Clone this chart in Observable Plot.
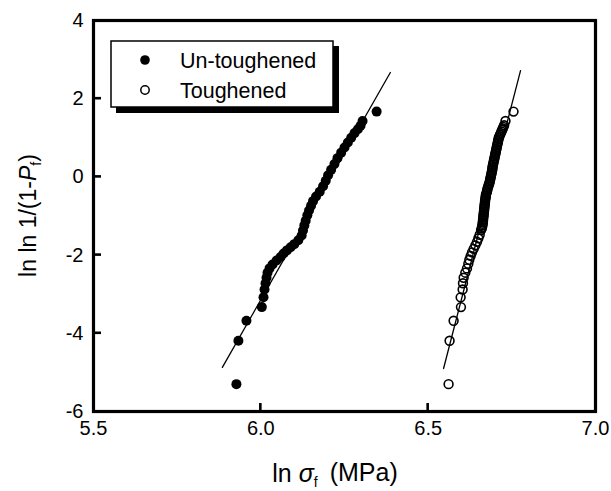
<!DOCTYPE html>
<html>
<head>
<meta charset="utf-8">
<script src="https://cdn.jsdelivr.net/npm/d3@7"></script>
<script src="https://cdn.jsdelivr.net/npm/@observablehq/plot@0.6"></script>
<style>
  html, body { margin: 0; padding: 0; background: white; }
</style>
</head>
<body>
<div id="chart"></div>
<script>
// ---- data ----
const xTicks = [5.5, 6.0, 6.5, 7.0];
const yTicks = [-6, -4, -2, 0, 2, 4];
const innerXTicks = [6.0, 6.5];
const innerYTicks = [-4, -2, 0, 2];

const seriesNames = ["Un-toughened", "Toughened"];

// Un-toughened: ln sigma_f and ln ln 1/(1-Pf)
const unX = [5.927,5.933,5.957,6.003,6.008,6.011,6.014,6.017,6.020,6.026,6.035,6.047,6.059,6.068,6.078,6.089,6.100,6.112,6.122,6.126,6.130,6.134,6.139,6.144,6.150,6.156,6.165,6.176,6.186,6.194,6.201,6.210,6.220,6.229,6.240,6.250,6.260,6.270,6.280,6.290,6.298,6.304,6.346];
const unY = [-5.30,-4.19,-3.68,-3.33,-3.08,-2.88,-2.72,-2.58,-2.45,-2.34,-2.24,-2.14,-2.05,-1.96,-1.88,-1.80,-1.72,-1.62,-1.50,-1.37,-1.24,-1.12,-0.98,-0.86,-0.74,-0.62,-0.50,-0.38,-0.24,-0.10,0.04,0.18,0.33,0.48,0.62,0.75,0.88,1.00,1.12,1.22,1.31,1.43,1.67];

// Toughened
const tX = [6.561,6.564,6.576,6.598,6.597,6.603,6.604,6.606,6.611,6.616,6.620,6.623,6.627,6.631,6.636,6.641,6.646,6.650,6.654,
  6.658,6.660,6.661,6.662,6.663,6.663,6.664,6.664,6.665,6.665,6.666,6.666,6.667,6.667,6.668,6.668,6.669,6.669,6.670,6.670,
  6.671,6.672,6.672,6.673,6.675,6.676,6.677,6.678,6.680,6.681,6.683,6.684,6.685,6.686,6.687,6.688,6.689,6.690,6.691,6.692,
  6.692,6.693,6.694,6.695,6.696,6.697,6.698,6.699,6.700,6.701,6.702,6.703,6.704,6.705,6.706,6.707,6.708,6.709,6.710,6.711,
  6.713,6.715,6.717,6.719,6.721,6.723,6.725,6.727,6.731,6.755];
const tY = [-5.30,-4.19,-3.68,-3.33,-3.08,-2.88,-2.72,-2.58,-2.45,-2.34,-2.22,-2.12,-2.02,-1.93,-1.84,-1.75,-1.66,-1.57,-1.48,
  -1.36,-1.32,-1.28,-1.24,-1.20,-1.16,-1.12,-1.08,-1.04,-1.00,-0.96,-0.92,-0.88,-0.84,-0.80,-0.76,-0.72,-0.68,-0.64,-0.60,
  -0.56,-0.52,-0.48,-0.44,-0.40,-0.36,-0.32,-0.28,-0.24,-0.20,-0.16,-0.12,-0.08,-0.04,0.00,0.04,0.08,0.12,0.16,0.20,
  0.24,0.28,0.32,0.36,0.40,0.44,0.48,0.52,0.56,0.60,0.64,0.68,0.72,0.76,0.80,0.84,0.88,0.92,0.96,1.00,
  1.04,1.08,1.12,1.16,1.20,1.24,1.28,1.32,1.43,1.67];

// Weibull fit lines (end points)
const fitUnX = [5.885, 6.387];
const fitUnY = [-4.87, 2.67];
const fitTX = [6.546, 6.776];
const fitTY = [-4.90, 2.72];

// ---- build tables ----
const unData = unX.map((x, i) => ({x, y: unY[i]}));
const tData = tX.map((x, i) => ({x, y: tY[i]}));
const fitUn = fitUnX.map((x, i) => ({x, y: fitUnY[i]}));
const fitT = fitTX.map((x, i) => ({x, y: fitTY[i]}));

const FONT = "'Liberation Sans', Arial, Helvetica, sans-serif";
const W = 611, H = 491, ML = 93, MR = 16, MT = 20, MB = 80;
const TICK = 8;

const chart = Plot.plot({
  width: W,
  height: H,
  marginLeft: ML,
  marginRight: MR,
  marginTop: MT,
  marginBottom: MB,
  x: {domain: [5.5, 7.0]},
  y: {domain: [-6, 4]},
  style: {fontFamily: FONT, fontSize: "20px", color: "black", background: "white", overflow: "visible"},
  marks: [
    Plot.axisX({ticks: xTicks, tickSize: 0, tickPadding: 9, tickFormat: d => d.toFixed(1), label: null, fontSize: 20}),
    Plot.axisY({ticks: yTicks, tickSize: 0, tickPadding: 10, tickFormat: d => String(d), label: null, fontSize: 20}),
    Plot.line(fitUn, {x: "x", y: "y", stroke: "black", strokeWidth: 1.3}),
    Plot.line(fitT, {x: "x", y: "y", stroke: "black", strokeWidth: 1.3}),
    Plot.dot(unData, {x: "x", y: "y", r: 5, fill: "black", stroke: "none"}),
    Plot.dot(tData, {x: "x", y: "y", r: 4.4, fill: "none", stroke: "black", strokeWidth: 1.6}),
    Plot.frame({stroke: "black", strokeWidth: 3.2})
  ]
});

const svg = d3.select(chart);
const xs = chart.scale("x");
const ys = chart.scale("y");

// inward tick marks, positioned with Plot's own scales
const tk = svg.append("g").attr("stroke", "black").attr("stroke-width", 2.6);
innerXTicks.forEach(v => {
  const px = xs.apply(v);
  tk.append("line").attr("x1", px).attr("x2", px).attr("y1", H - MB).attr("y2", H - MB - TICK);
});
innerYTicks.forEach(v => {
  const py = ys.apply(v);
  tk.append("line").attr("x1", ML).attr("x2", ML + TICK).attr("y1", py).attr("y2", py);
});

// Y axis title
const yt = svg.append("text")
  .attr("transform", "translate(36,215.5) rotate(-90)")
  .attr("text-anchor", "middle")
  .attr("font-family", FONT)
  .attr("font-size", 23)
  .attr("fill", "black");
yt.append("tspan").text("ln ln 1/(1-");
yt.append("tspan").attr("font-style", "italic").text("P");
yt.append("tspan").attr("font-size", 14).attr("dy", "0.35em").text("f");
yt.append("tspan").attr("dy", "-0.22em").text(")");

// X axis title
const xt = svg.append("text")
  .attr("x", 335)
  .attr("y", 482)
  .attr("text-anchor", "middle")
  .attr("font-family", FONT)
  .attr("font-size", 25)
  .attr("fill", "black");
xt.append("tspan").text("ln ");
xt.append("tspan").attr("font-style", "italic").text("σ");
xt.append("tspan").attr("font-size", 14).attr("dy", "0.35em").text("f");
xt.append("tspan").attr("dy", "-0.22em").attr("dx", 12).text("(MPa)");

// Legend
const lg = svg.append("g");
lg.append("rect").attr("x", 116).attr("y", 46).attr("width", 223).attr("height", 67)
  .attr("fill", "black").attr("stroke", "none");
lg.append("rect").attr("x", 111).attr("y", 41).attr("width", 222).attr("height", 66)
  .attr("fill", "white").attr("stroke", "black").attr("stroke-width", 1.5);
lg.append("circle").attr("cx", 145).attr("cy", 60).attr("r", 4.8).attr("fill", "black").attr("stroke", "none");
lg.append("circle").attr("cx", 145).attr("cy", 90).attr("r", 4.2).attr("fill", "white").attr("stroke", "black").attr("stroke-width", 1.5);
lg.selectAll("text.lab").data(seriesNames).join("text")
  .attr("class", "lab")
  .attr("x", 180)
  .attr("y", (d, i) => 60 + i * 30)
  .attr("dy", "0.36em")
  .attr("text-anchor", "start")
  .attr("font-family", FONT)
  .attr("font-size", 21.5)
  .attr("fill", "black")
  .text(d => d);

document.getElementById("chart").appendChild(chart);
</script>
</body>
</html>
